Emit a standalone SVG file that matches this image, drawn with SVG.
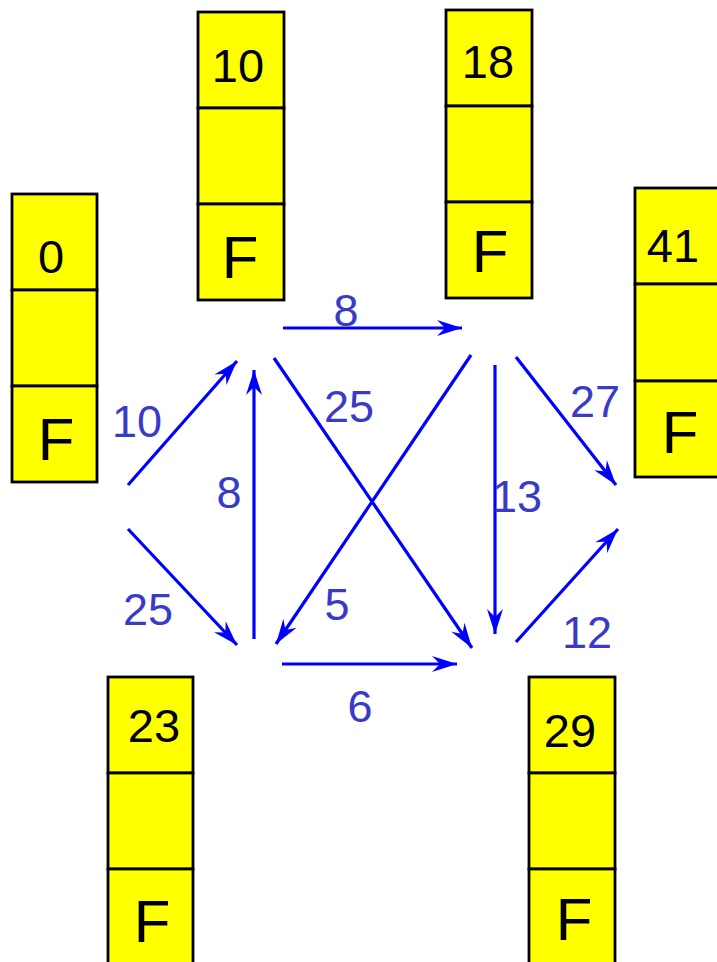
<svg xmlns="http://www.w3.org/2000/svg" width="717" height="962" viewBox="0 0 717 962">
<style>
.cell{fill:#ffff00;stroke:#000;stroke-width:2.8}
.num{font-family:"Liberation Sans",Arial,sans-serif;font-size:47px;fill:#000;text-anchor:middle}
.f{font-family:"Liberation Sans",Arial,sans-serif;font-size:60px;fill:#000;text-anchor:middle}
.e{stroke:#0000ff;stroke-width:3.2;fill:none;marker-end:url(#ah)}
.lbl{font-family:"Liberation Sans",Arial,sans-serif;font-size:45px;fill:#3a3ac8;text-anchor:middle}
</style>
<defs>
<marker id="ah" viewBox="-27 -9 28 18" markerWidth="28" markerHeight="18" refX="0" refY="0" orient="auto" markerUnits="userSpaceOnUse">
<path d="M0,0 L-25,-8 L-17,0 L-25,8 Z" fill="#0000ff"/>
</marker>
</defs>
<rect width="717" height="962" fill="#fff"/>
<g id="n0">
<rect class="cell" x="12" y="194" width="85" height="96"/>
<rect class="cell" x="12" y="290" width="85" height="96"/>
<rect class="cell" x="12" y="386" width="85" height="96"/>
<text class="num" x="51" y="273">0</text>
<text class="f" x="56" y="460">F</text>
</g>
<g id="n10">
<rect class="cell" x="198" y="12" width="86" height="96"/>
<rect class="cell" x="198" y="108" width="86" height="96"/>
<rect class="cell" x="198" y="204" width="86" height="96"/>
<text class="num" x="238" y="82">10</text>
<text class="f" x="240" y="278">F</text>
</g>
<g id="n18">
<rect class="cell" x="446" y="10" width="86" height="96"/>
<rect class="cell" x="446" y="106" width="86" height="96"/>
<rect class="cell" x="446" y="202" width="86" height="96"/>
<text class="num" x="488" y="78">18</text>
<text class="f" x="490" y="272">F</text>
</g>
<g id="n41">
<rect class="cell" x="635" y="188" width="86" height="96"/>
<rect class="cell" x="635" y="284" width="86" height="97"/>
<rect class="cell" x="635" y="381" width="86" height="96"/>
<text class="num" x="673" y="262">41</text>
<text class="f" x="680" y="453">F</text>
</g>
<g id="n23">
<rect class="cell" x="108" y="677" width="85" height="96"/>
<rect class="cell" x="108" y="773" width="85" height="96"/>
<rect class="cell" x="108" y="869" width="85" height="100"/>
<text class="num" x="154" y="742">23</text>
<text class="f" x="152" y="942">F</text>
</g>
<g id="n29">
<rect class="cell" x="529" y="677" width="86" height="96"/>
<rect class="cell" x="529" y="773" width="86" height="96"/>
<rect class="cell" x="529" y="869" width="86" height="100"/>
<text class="num" x="570" y="747">29</text>
<text class="f" x="574" y="940">F</text>
</g>
<g id="edges">
<line class="e" x1="128" y1="485" x2="237" y2="361"/>
<line class="e" x1="128" y1="529" x2="237" y2="645"/>
<line class="e" x1="254" y1="639" x2="254" y2="370"/>
<line class="e" x1="283" y1="328" x2="462" y2="328"/>
<line class="e" x1="274" y1="358" x2="472" y2="648"/>
<line class="e" x1="471" y1="355" x2="276" y2="644"/>
<line class="e" x1="282" y1="664" x2="457" y2="664"/>
<line class="e" x1="495" y1="365" x2="495" y2="634"/>
<line class="e" x1="516" y1="357" x2="616" y2="485"/>
<line class="e" x1="516" y1="642" x2="618" y2="529"/>
<text class="lbl" x="137" y="437">10</text>
<text class="lbl" x="148" y="625">25</text>
<text class="lbl" x="229" y="508">8</text>
<text class="lbl" x="346" y="326">8</text>
<text class="lbl" x="349" y="422">25</text>
<text class="lbl" x="337" y="620">5</text>
<text class="lbl" x="360" y="722">6</text>
<text class="lbl" x="517" y="512">13</text>
<text class="lbl" x="595" y="417">27</text>
<text class="lbl" x="587" y="648">12</text>
</g>
</svg>
